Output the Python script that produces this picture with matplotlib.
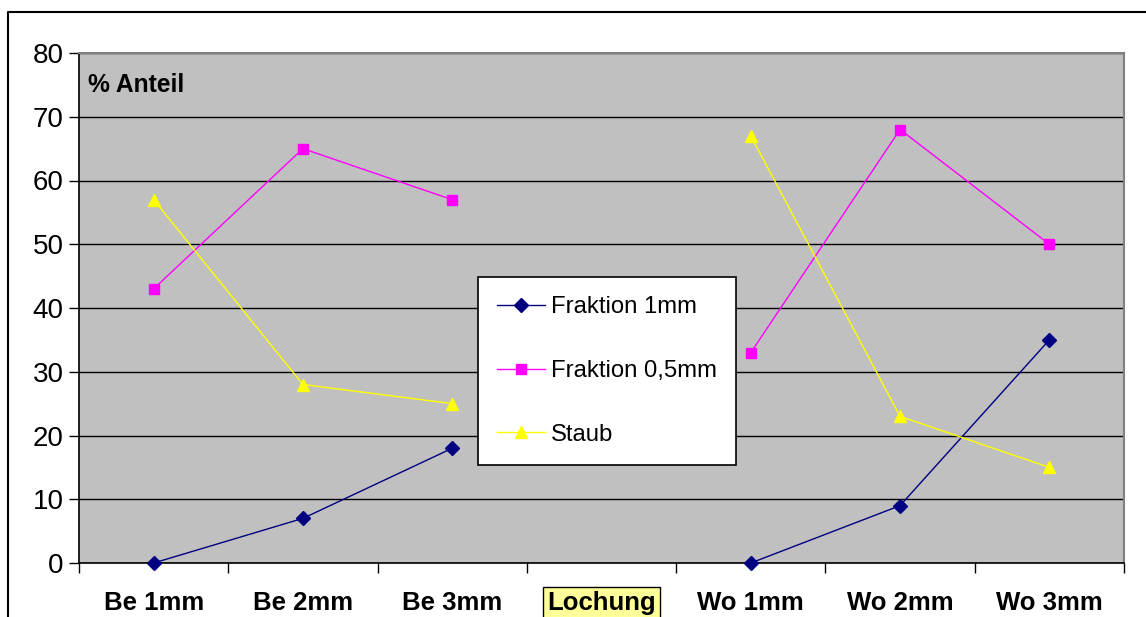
import numpy as np
import matplotlib
matplotlib.use("Agg")
import matplotlib.pyplot as plt
from matplotlib.lines import Line2D

categories = ["Be 1mm", "Be 2mm", "Be 3mm", "Lochung", "Wo 1mm", "Wo 2mm", "Wo 3mm"]
fraktion_1mm = [0, 7, 18, np.nan, 0, 9, 35]
fraktion_05mm = [43, 65, 57, np.nan, 33, 68, 50]
staub = [57, 28, 25, np.nan, 67, 23, 15]
y_ticks = [0, 10, 20, 30, 40, 50, 60, 70, 80]

plt.rcParams['font.family'] = ['Liberation Sans', 'DejaVu Sans']

W, H = 1146, 617
fig = plt.figure(figsize=(W / 100, H / 100), dpi=100)
fig.patch.set_facecolor('white')

# outer chart frame (cropped on right and bottom)
fig.add_artist(Line2D([8 / W, 8 / W, 1.0], [0.0, 1 - 12 / H, 1 - 12 / H],
                      transform=fig.transFigure, color='black', lw=1.5))

ax = fig.add_axes([79 / W, 1 - 563 / H, (1124 - 79) / W, (563 - 53) / H])
ax.set_facecolor('#C0C0C0')

x = np.arange(len(categories))
ax.plot(x, fraktion_1mm, color='#000080', lw=1, marker='D', markersize=7,
        label='Fraktion 1mm', clip_on=False, zorder=3)
ax.plot(x, fraktion_05mm, color='#FF00FF', lw=1, marker='s', markersize=7,
        label='Fraktion 0,5mm', clip_on=False, zorder=3)
ax.plot(x, staub, color='#FFFF00', lw=1, marker='^', markersize=9,
        label='Staub', clip_on=False, zorder=3)

ax.set_xlim(-0.5, len(categories) - 0.5)
ax.set_ylim(0, 80)
ax.set_yticks(y_ticks)
ax.set_yticklabels([str(v) for v in y_ticks], fontsize=20)
ax.yaxis.grid(True, color='black', lw=1)
ax.set_axisbelow(True)

ax.set_xticks(x)
ax.set_xticklabels(categories, fontsize=18.5, fontweight='bold')
ax.set_xticks(np.arange(-0.5, len(categories)), minor=True)
ax.tick_params(axis='x', which='major', length=0, pad=20)
ax.tick_params(axis='x', which='minor', length=7, width=1, direction='out')
ax.tick_params(axis='y', length=7, width=1, direction='out', pad=4)

for lbl in ax.get_xticklabels():
    if lbl.get_text() == 'Lochung':
        lbl.set_bbox(dict(facecolor='#FFFF99', edgecolor='black', lw=1, pad=3))

for s in ['left', 'bottom']:
    ax.spines[s].set_color('black')
    ax.spines[s].set_linewidth(1.2)
for s in ['top', 'right']:
    ax.spines[s].set_color('#808080')
    ax.spines[s].set_linewidth(1.5)

ax.text(88 / W, 1 - 85 / H, '% Anteil', transform=fig.transFigure,
        fontsize=17.7, fontweight='bold', va='center', ha='left')

leg = ax.legend(loc='upper left', bbox_to_anchor=(478 / W, 1 - 277 / H),
                bbox_transform=fig.transFigure, fontsize=17.2, frameon=True,
                fancybox=False, edgecolor='black', facecolor='white', framealpha=1,
                borderaxespad=0, labelspacing=1.75, handlelength=2.0,
                handletextpad=0.25, borderpad=0.8)
leg._legend_box.sep = 0
leg.get_frame().set_linewidth(1.2)

fig.savefig('out.png', dpi=100)
